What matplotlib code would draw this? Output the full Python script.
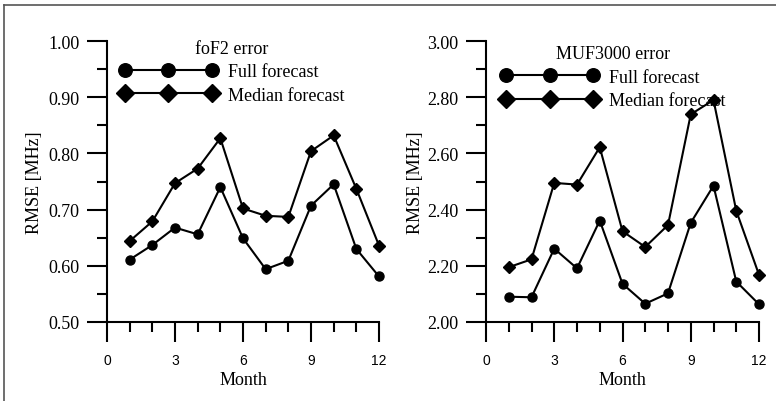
import numpy as np
import matplotlib
matplotlib.use("Agg")
import matplotlib.pyplot as plt
from matplotlib.lines import Line2D

months = np.arange(1, 13)

# foF2 RMSE [MHz]
fof2_full = [0.611, 0.637, 0.668, 0.656, 0.740, 0.649, 0.594, 0.609, 0.707, 0.745, 0.630, 0.581]
fof2_median = [0.644, 0.679, 0.747, 0.773, 0.827, 0.702, 0.689, 0.687, 0.804, 0.832, 0.737, 0.636]

# MUF3000 RMSE [MHz]
muf_full = [2.090, 2.088, 2.261, 2.191, 2.361, 2.136, 2.065, 2.102, 2.353, 2.485, 2.144, 2.063]
muf_median = [2.195, 2.223, 2.495, 2.489, 2.622, 2.323, 2.267, 2.345, 2.739, 2.790, 2.396, 2.168]

xticks = [0, 3, 6, 9, 12]
serif = "Liberation Serif"
sans = "Liberation Sans"

fig = plt.figure(figsize=(7.76, 4.02), dpi=100)

# frame lines on the left and top of the picture
fig.add_artist(Line2D([4 / 776, 4 / 776], [0, 1 - 6 / 402], transform=fig.transFigure,
                      color="#555555", lw=1.2))
fig.add_artist(Line2D([4 / 776, 1], [1 - 6 / 402, 1 - 6 / 402], transform=fig.transFigure,
                      color="#555555", lw=1.2))


def make_panel(rect, full, median, ylim, yticks, title, leg_x, leg_y, ylab_x):
    ax = fig.add_axes(rect)
    ax.plot(months, full, color="black", lw=1.5, marker="o", ms=6.5,
            clip_on=False, label="Full forecast")
    ax.plot(months, median, color="black", lw=1.5, marker="D", ms=6.3,
            clip_on=False, label="Median forecast")
    ax.set_xlim(0, 12)
    ax.set_ylim(*ylim)
    ax.spines["top"].set_visible(False)
    ax.spines["right"].set_visible(False)
    ax.spines["left"].set_linewidth(1.5)
    ax.spines["bottom"].set_linewidth(1.5)

    ax.set_xticks(xticks)
    ax.set_xticks(months, minor=True)
    ax.set_xticklabels([str(t) for t in xticks], fontfamily=sans, fontsize=10)
    ax.set_yticks(yticks)
    ax.set_yticks(np.arange(ylim[0], ylim[1] + 1e-9, (yticks[1] - yticks[0]) / 2), minor=True)
    ax.set_yticklabels(["%.2f" % t for t in yticks], fontfamily=serif, fontsize=13)
    ax.tick_params(axis="both", which="major", direction="out", length=14.4, width=1.5)
    ax.tick_params(axis="both", which="minor", direction="out", length=7.2, width=1.5)
    ax.tick_params(axis="x", which="major", pad=8)
    ax.tick_params(axis="y", which="major", pad=5.5)

    ax.set_xlabel("Month", fontfamily=serif, fontsize=13)
    ax.xaxis.set_label_coords(0.5, -0.174)
    ax.set_ylabel("RMSE [MHz]", fontfamily=serif, fontsize=13)
    ax.yaxis.set_label_coords(ylab_x, 0.5)

    leg = ax.legend(loc="upper left", bbox_to_anchor=(leg_x, leg_y), frameon=False,
                    numpoints=3, handlelength=5.4, handletextpad=0.6, markerscale=1.5,
                    borderpad=0, borderaxespad=0, labelspacing=0.35,
                    title=title, prop={"family": serif, "size": 13})
    leg.get_title().set_fontfamily(serif)
    leg.get_title().set_fontsize(13)
    return ax


make_panel([107 / 776, 1 - 323 / 402, 272 / 776, 281 / 402], fof2_full, fof2_median,
           (0.5, 1.0), [0.5, 0.6, 0.7, 0.8, 0.9, 1.0], "foF2 error", 0.046, 1.004, -0.235)
make_panel([486 / 776, 1 - 323 / 402, 273 / 776, 281 / 402], muf_full, muf_median,
           (2.0, 3.0), [2.0, 2.2, 2.4, 2.6, 2.8, 3.0], "MUF3000 error", 0.055, 0.984, -0.226)

fig.savefig("out.png", dpi=100)
